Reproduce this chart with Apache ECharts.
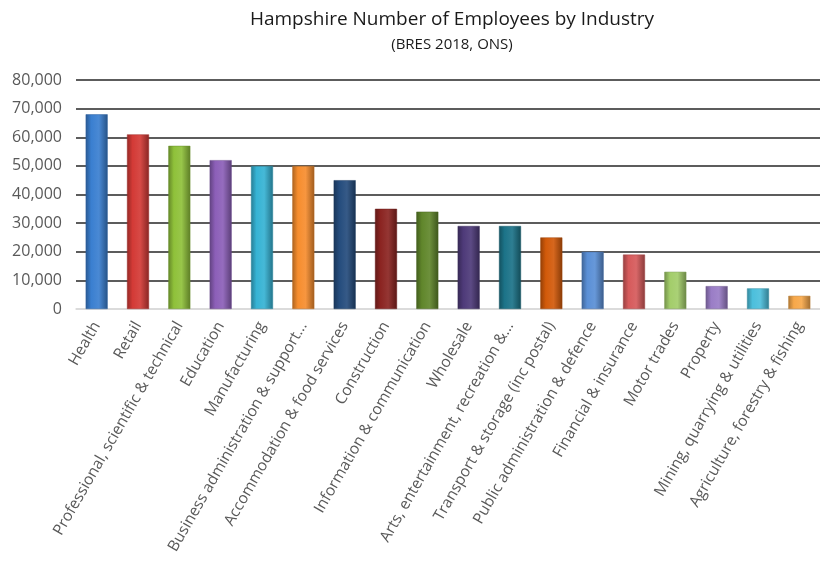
<!DOCTYPE html>
<html><head><meta charset="utf-8">
<script src="https://cdn.jsdelivr.net/npm/echarts@6/dist/echarts.min.js"></script>
<style>html,body{margin:0;padding:0;background:#fff}#c{width:820px;height:562px}</style>
</head><body><div id="c"></div>
<script>
var categories = ["Health","Retail","Professional, scientific & technical","Education","Manufacturing","Business administration & support...","Accommodation & food services","Construction","Information & communication","Wholesale","Arts, entertainment, recreation &...","Transport & storage (inc postal)","Public administration & defence","Financial & insurance","Motor trades","Property","Mining, quarrying & utilities","Agriculture, forestry & fishing"];
var values = [68000,61000,57000,52000,50000,50000,45000,35000,34000,29000,29000,25000,20000,19000,13000,8000,7200,4600];
var palette = ["#3a7fd0","#d33a36","#8fc13a","#8c5fb8","#36b3d4","#f68d2e","#244c7d","#8b2421","#60862b","#4e3a79","#1c7388","#d25a0a","#5a8fd6","#d65a5b","#a3cd6a","#9a7dc6","#4cbfdc","#f7a84a"];
var yTicks = {min:0, max:80000, interval:10000};

function shade(hex, f){
  var n=parseInt(hex.slice(1),16), r=n>>16, g=(n>>8)&255, b=n&255;
  function c(v){ v = f<0 ? v*(1+f) : v+(255-v)*f; return Math.max(0,Math.min(255,Math.round(v))); }
  return 'rgb('+c(r)+','+c(g)+','+c(b)+')';
}
var chart = echarts.init(document.getElementById('c'));
chart.setOption({
  animation:false,
  title:{
    text:'Hampshire Number of Employees by Industry',
    subtext:'(BRES 2018, ONS)',
    left:447, top:5, textAlign:'center', itemGap:8,
    textStyle:{fontFamily:'Open Sans', fontSize:19, fontWeight:'normal', color:'#1a1a1a'},
    subtextStyle:{fontFamily:'Open Sans', fontSize:15, color:'#1a1a1a'}
  },
  grid:{left:76, top:80, width:752, height:229, containLabel:false},
  xAxis:{
    type:'category', data:categories,
    axisLine:{lineStyle:{color:'#d9d9d9', width:1.5}},
    axisTick:{show:false},
    axisLabel:{interval:0, rotate:60, margin:14, color:'#595959', fontFamily:'Open Sans', fontSize:15.5}
  },
  yAxis:{
    type:'value', min:yTicks.min, max:yTicks.max, interval:yTicks.interval,
    axisLine:{show:false}, axisTick:{show:false},
    axisLabel:{margin:14, color:'#595959', fontFamily:'Open Sans', fontSize:16,
      formatter:function(v){return v.toLocaleString('en-US');}},
    splitLine:{lineStyle:{color:['#d9d9d9','#262626','#262626','#262626','#262626','#262626','#262626','#262626','#262626'], width:1.5}}
  },
  series:[{
    type:'bar', barWidth:22,
    data: values.map(function(v,i){
      var col = palette[i];
      return {value:v, itemStyle:{
        color:{type:'linear',x:0,y:0,x2:1,y2:0,colorStops:[
          {offset:0,color:shade(col,-0.3)},{offset:0.25,color:col},{offset:0.6,color:shade(col,0.08)},{offset:1,color:shade(col,-0.35)}]},
        borderColor:shade(col,-0.25), borderWidth:0.5
      }};
    })
  }]
});
</script></body></html>
